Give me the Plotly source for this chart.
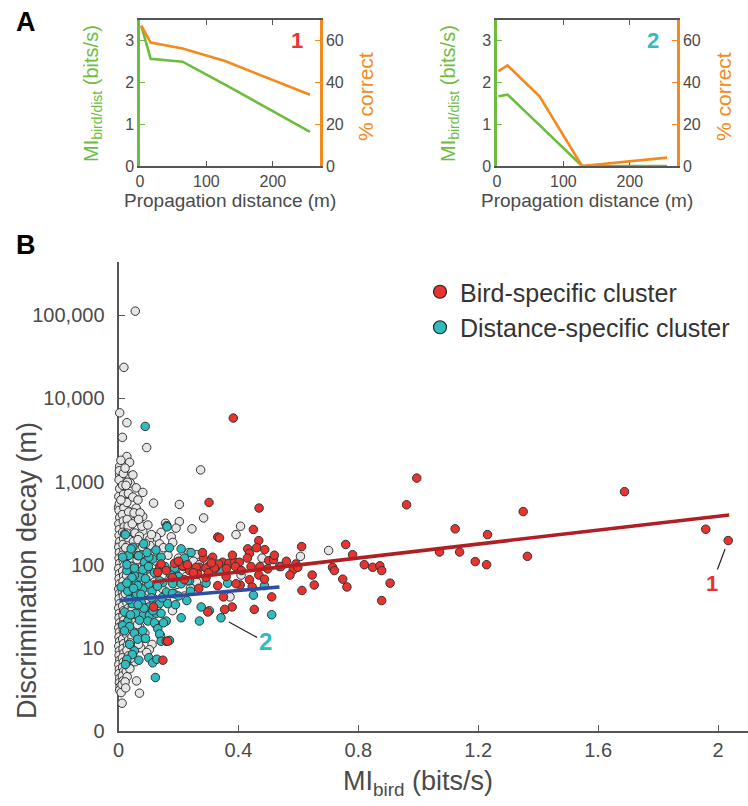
import numpy as np
import plotly.graph_objects as go

# ---------------- Panel A data ----------------
distance_m = [2, 16, 64, 128, 256]
mi_song1 = [3.36, 2.57, 2.50, 1.95, 0.82]
pct_song1 = [67.3, 59.2, 56.3, 50.3, 34.2]
mi_song2 = [1.67, 1.71, 0.98, 0.0, 0.0]
pct_song2 = [45.5, 48.2, 33.4, 0.0, 4.0]

a_xticks = [0, 100, 200]
a_left_ticks = [0, 1, 2, 3]
a_right_ticks = [0, 20, 40, 60]

# ---------------- Panel B data (MI_bird bits/s, decay m) ----------------
grey_pts = [
    (0.056, 112000), (0.018, 23600), (0.004, 6700), (0.028, 5100), (0.013, 3400),
    (0.094, 2560), (0.274, 1380), (0.028, 2000), (0.037, 1700), (0.004, 1520),
    (0.004, 1200), (0.037, 1160), (0.048, 1200), (0.039, 960), (0.059, 840),
    (0.081, 740), (0.117, 550), (0.203, 530), (0.009, 1030), (0.020, 760),
    (0.020, 620), (0.000, 490), (0.031, 445), (0.059, 480), (0.009, 390),
    (0.081, 380), (0.284, 365), (0.203, 330), (0.157, 315), (0.053, 330),
    (0.192, 275), (0.006, 280), (0.039, 255), (0.081, 255), (0.142, 245),
    (0.176, 217), (0.126, 215), (0.048, 205), (0.103, 200), (0.003, 178),
    (0.070, 178), (0.137, 178), (0.181, 185), (0.261, 132), (0.407, 290),
    (0.392, 230), (0.701, 148), (0.607, 126), (0.479, 120), (0.409, 75),
    (0.372, 41),
    # dense left column
    (0.003, 1350), (0.002, 1050), (0.004, 820), (0.001, 660), (0.003, 540),
    (0.002, 450), (0.004, 370), (0.001, 310), (0.003, 265), (0.002, 225),
    (0.004, 190), (0.001, 162), (0.003, 140), (0.002, 120), (0.004, 104),
    (0.001, 90), (0.003, 78), (0.002, 68), (0.004, 59), (0.001, 51),
    (0.003, 45), (0.002, 39), (0.004, 34), (0.001, 30), (0.003, 26),
    (0.002, 23), (0.004, 20), (0.001, 17.5), (0.003, 15.5), (0.002, 13.5),
    (0.004, 12), (0.001, 10.5), (0.003, 9.2), (0.002, 8.1), (0.004, 7.1),
    (0.001, 6.3), (0.003, 5.5), (0.002, 4.9), (0.004, 4.3), (0.003, 3.8),
    (0.005, 3.4), (0.004, 3.1),
    (0.016, 1250), (0.014, 900), (0.017, 700), (0.015, 580), (0.018, 480),
    (0.013, 400), (0.016, 335), (0.019, 285), (0.014, 245), (0.017, 205),
    (0.015, 175), (0.018, 150), (0.013, 130), (0.016, 112), (0.019, 97),
    (0.014, 84), (0.017, 73), (0.015, 63), (0.018, 55), (0.013, 48),
    (0.016, 42), (0.019, 36.5), (0.014, 32), (0.017, 28), (0.015, 24.5),
    (0.018, 21.5), (0.013, 19), (0.016, 16.5), (0.019, 14.5), (0.014, 12.8),
    (0.017, 11.2), (0.015, 9.8), (0.018, 8.6), (0.013, 7.6), (0.016, 6.7),
    (0.014, 5.9), (0.017, 5.2), (0.013, 4.6), (0.015, 4.0), (0.012, 3.6),
    (0.030, 980), (0.033, 720), (0.028, 560), (0.034, 430), (0.029, 350),
    (0.032, 290), (0.027, 240), (0.035, 200), (0.030, 168), (0.033, 143),
    (0.028, 118), (0.036, 100), (0.031, 86), (0.027, 74), (0.034, 64),
    (0.029, 55), (0.032, 47), (0.037, 41), (0.028, 35), (0.033, 30),
    (0.030, 26), (0.035, 22.5), (0.029, 19.5), (0.032, 17), (0.027, 14.5),
    (0.034, 12.5), (0.030, 10.8), (0.028, 9.3), (0.033, 8.0), (0.027, 6.9),
    (0.031, 6.0), (0.026, 5.2), (0.029, 4.5),
    (0.048, 650), (0.052, 420), (0.046, 310), (0.055, 240), (0.050, 190),
    (0.058, 150), (0.045, 120), (0.053, 96), (0.060, 80), (0.047, 66),
    (0.056, 54), (0.050, 44), (0.062, 38), (0.046, 31), (0.054, 25),
    (0.049, 20), (0.058, 16.5), (0.045, 13.5), (0.052, 10), (0.047, 8.2),
    (0.055, 6.8),
    (0.072, 420), (0.078, 290), (0.070, 220), (0.080, 165), (0.074, 130),
    (0.085, 105), (0.070, 82), (0.079, 66), (0.088, 52), (0.073, 44),
    (0.083, 36), (0.076, 28), (0.090, 23), (0.071, 18), (0.080, 13),
    (0.074, 10),
    (0.098, 300), (0.110, 230), (0.105, 170), (0.118, 140), (0.096, 115),
    (0.125, 110), (0.108, 75), (0.120, 62), (0.100, 48), (0.115, 40),
    (0.130, 32), (0.105, 27), (0.125, 19), (0.140, 14), (0.112, 11),
    (0.150, 160), (0.165, 130), (0.158, 88), (0.172, 70), (0.145, 52),
    (0.185, 45), (0.160, 37), (0.200, 120), (0.210, 105), (0.225, 72),
    (0.195, 58), (0.240, 52), (0.250, 110), (0.220, 42), (0.180, 28),
    (0.235, 140), (0.270, 100), (0.260, 62), (0.245, 270),
    (0.070, 2.85), (0.012, 2.16), (0.103, 9.5), (0.060, 4.0),
    (0.040, 140), (0.043, 95), (0.041, 62), (0.044, 28), (0.042, 17),
    (0.039, 11.5), (0.041, 7.5), (0.038, 5.6), (0.022, 3.9), (0.009, 2.9),
    (0.024, 3.3), (0.008, 1800), (0.022, 1450), (0.065, 600), (0.067, 350),
    (0.065, 200), (0.062, 115), (0.066, 72), (0.064, 48), (0.066, 32),
    (0.063, 19), (0.067, 11), (0.090, 180), (0.093, 95), (0.095, 60),
    (0.092, 37), (0.088, 15), (0.094, 8.8), (0.023, 45), (0.024, 160),
    (0.008, 600), (0.025, 900),
]

teal_pts = [
    (0.009, 54), (0.031, 48), (0.037, 59), (0.059, 59), (0.072, 71), (0.057, 43),
    (0.081, 51), (0.101, 58), (0.112, 48), (0.148, 61), (0.181, 59), (0.209, 59),
    (0.237, 64), (0.292, 60), (0.046, 34), (0.076, 35), (0.101, 31), (0.137, 34),
    (0.164, 34), (0.190, 33), (0.228, 37), (0.276, 31), (0.303, 28), (0.020, 27),
    (0.057, 26), (0.084, 25), (0.103, 24.5), (0.126, 26), (0.142, 26), (0.209, 23),
    (0.031, 21), (0.070, 21.5), (0.098, 21), (0.120, 20), (0.159, 21), (0.270, 21),
    (0.014, 18.5), (0.037, 18), (0.081, 16), (0.131, 17), (0.020, 16), (0.053, 15),
    (0.137, 14.7), (0.064, 12.7), (0.142, 12), (0.170, 12.3), (0.037, 11), (0.053, 9.2),
    (0.046, 8.3), (0.028, 7.3), (0.068, 7.1), (0.101, 7.6), (0.114, 6.6), (0.128, 7.3),
    (0.023, 6.3), (0.123, 4.4), (0.089, 4600), (0.161, 295), (0.020, 234), (0.048, 162),
    (0.034, 129), (0.064, 129), (0.087, 107), (0.114, 117), (0.192, 89), (0.028, 85),
    (0.053, 74), (0.064, 56), (0.098, 89), (0.137, 64), (0.231, 64), (0.162, 285),
    (0.023, 230), (0.084, 178), (0.042, 155), (0.209, 155), (0.242, 140), (0.067, 128),
    (0.101, 123), (0.142, 123), (0.014, 123), (0.028, 100), (0.053, 91), (0.081, 87),
    (0.187, 91), (0.217, 95), (0.537, 95), (0.339, 85), (0.364, 60), (0.487, 56),
    (0.450, 43), (0.511, 25), (0.045, 70), (0.090, 68), (0.120, 80), (0.155, 95),
    (0.175, 75), (0.200, 72), (0.110, 40), (0.160, 47), (0.085, 30), (0.060, 45),
    (0.125, 150), (0.170, 160), (0.095, 140), (0.220, 120), (0.260, 85), (0.300, 95),
    (0.035, 38), (0.050, 52), (0.075, 44), (0.100, 95), (0.130, 55), (0.145, 40),
    (0.180, 45), (0.065, 33), (0.090, 13), (0.040, 25), (0.115, 28), (0.150, 20),
    (0.200, 42), (0.240, 48), (0.028, 60),
    (0.342, 23),
]

red_pts = [
    (0.383, 5800), (0.302, 560), (0.469, 480), (0.331, 215), (0.283, 120), (0.314, 123),
    (0.137, 95), (0.237, 85), (0.270, 93), (0.292, 91), (0.323, 91),
    (0.450, 265), (0.337, 210), (0.468, 195), (0.611, 165), (0.431, 155), (0.461, 160),
    (0.488, 152), (0.437, 137), (0.501, 112), (0.517, 115), (0.348, 107), (0.368, 104),
    (0.387, 107), (0.403, 107), (0.334, 102), (0.320, 91), (0.390, 95), (0.442, 95),
    (0.472, 95), (0.498, 89), (0.592, 102), (0.583, 87), (0.572, 75), (0.646, 75),
    (0.714, 93), (0.720, 85), (0.292, 70), (0.359, 72), (0.468, 75), (0.487, 67),
    (0.437, 66), (0.653, 57), (0.612, 49), (0.331, 56), (0.406, 57), (0.446, 54),
    (0.350, 41), (0.511, 41), (0.379, 31), (0.354, 29), (0.453, 29), (0.298, 27),
    (0.995, 1100), (0.961, 525), (1.123, 270), (1.231, 230), (1.350, 435), (1.364, 126),
    (0.758, 175), (0.781, 132), (0.542, 95), (0.598, 93), (0.748, 67), (0.762, 54),
    (0.820, 100), (0.848, 93), (0.872, 97), (0.878, 85), (0.906, 60), (0.878, 37),
    (1.071, 142), (1.138, 142), (1.190, 109), (1.228, 100),
    (1.688, 755), (1.959, 267),
    (0.131, 81), (0.117, 31), (0.268, 52), (0.148, 7.1), (0.159, 12), (0.164, 12),
    (0.142, 102), (0.187, 104), (0.214, 97), (0.259, 93), (0.159, 85), (0.264, 77),
    (0.392, 59), (0.200, 110), (0.230, 100), (0.250, 80), (0.180, 70), (0.220, 66),
    (0.300, 80), (0.310, 105), (0.360, 90), (0.410, 85), (0.430, 120), (0.520, 130),
    (0.560, 110), (0.280, 140), (0.380, 130),
    (2.034, 195),
]

# fitted trend lines (end points of each fit)
red_fit_x = [0.113, 2.037]
red_fit_y = [62, 397]
blue_fit_x = [0.005, 0.537]
blue_fit_y = [37, 54]

b_xticks = [0, 0.4, 0.8, 1.2, 1.6, 2.0]
b_xticktext = ["0", "0.4", "0.8", "1.2", "1.6", "2"]
b_yticks = [1, 10, 100, 1000, 10000, 100000]
b_yticktext = ["0", "10", "100", "1,000", "10,000", "100,000"]

example1 = red_pts[-1]   # song "1"
example2 = teal_pts[-1]  # song "2"

# ---------------- styling ----------------
W, H = 748, 806
FONT = "Liberation Sans, Arial, Helvetica, sans-serif"
GREEN = "#6cbd3d"
ORANGE = "#f28a1e"
RED = "#e8332f"
TEAL = "#2fbcbf"
GREY_FILL = "#e6e6e6"
AX = "#555555"
TXT = "#4a4a4a"


def px_x(p):
    return p / W


def px_y(p):
    return 1 - p / H


fig = go.Figure()

# Panel A traces
for xa, ya, ya2, mi, pc in [("x", "y", "y2", mi_song1, pct_song1),
                            ("x2", "y3", "y4", mi_song2, pct_song2)]:
    fig.add_trace(go.Scatter(x=distance_m, y=mi, mode="lines",
                             line=dict(color=GREEN, width=2.6),
                             xaxis=xa, yaxis=ya, showlegend=False, hoverinfo="skip"))
    fig.add_trace(go.Scatter(x=distance_m, y=pc, mode="lines",
                             line=dict(color=ORANGE, width=2.6),
                             xaxis=xa, yaxis=ya2, showlegend=False, hoverinfo="skip"))

# Panel B scatter
mk_line = dict(color="#333333", width=1)
for pts, col in [(grey_pts, GREY_FILL), (teal_pts, TEAL), (red_pts, RED)]:
    xs = [p[0] for p in pts]
    ys = [p[1] for p in pts]
    fig.add_trace(go.Scatter(x=xs, y=ys, mode="markers",
                             marker=dict(size=8.5, color=col, line=mk_line),
                             xaxis="x3", yaxis="y5", showlegend=False,
                             cliponaxis=False, hoverinfo="skip"))

fig.add_trace(go.Scatter(x=red_fit_x, y=red_fit_y, mode="lines",
                         line=dict(color="#b01f24", width=3.5),
                         xaxis="x3", yaxis="y5", showlegend=False, hoverinfo="skip"))
fig.add_trace(go.Scatter(x=blue_fit_x, y=blue_fit_y, mode="lines",
                         line=dict(color="#2f4ea3", width=3.5),
                         xaxis="x3", yaxis="y5", showlegend=False, hoverinfo="skip"))

# legend entries
fig.add_trace(go.Scatter(x=[None], y=[None], mode="markers", name="Bird-specific cluster",
                         marker=dict(size=13, color=RED, line=dict(color="#222", width=1.2)),
                         xaxis="x3", yaxis="y5"))
fig.add_trace(go.Scatter(x=[None], y=[None], mode="markers", name="Distance-specific cluster",
                         marker=dict(size=13, color=TEAL, line=dict(color="#222", width=1.2)),
                         xaxis="x3", yaxis="y5"))

a_xdom1 = [px_x(140), px_x(320)]
a_xdom2 = [px_x(497), px_x(677)]
a_ydom = [px_y(166), px_y(20)]

tickf_a = dict(size=16, color=TXT, family=FONT)


def a_xaxis(dom, anchor):
    return dict(domain=dom, anchor=anchor, range=[0, 271], tickvals=a_xticks,
                ticks="inside", ticklen=5, tickcolor=AX, mirror="ticks",
                showline=True, linecolor=AX, linewidth=1.5, showgrid=False,
                zeroline=False, tickfont=tickf_a, layer="below traces")


def a_yleft(anchor):
    return dict(domain=a_ydom, anchor=anchor, range=[0, 3.5], tickvals=a_left_ticks,
                ticks="inside", ticklen=5, tickcolor=GREEN, showline=True,
                linecolor=GREEN, linewidth=2.5, showgrid=False, zeroline=False,
                tickfont=tickf_a, layer="below traces")


def a_yright(anchor, over):
    return dict(overlaying=over, side="right", anchor=anchor, range=[0, 70],
                tickvals=a_right_ticks, ticks="inside", ticklen=5, tickcolor=ORANGE,
                showline=True, linecolor=ORANGE, linewidth=2.5, showgrid=False,
                zeroline=False, tickfont=tickf_a)


tickf_b = dict(size=20, color=TXT, family=FONT)

fig.update_layout(
    width=W, height=H, autosize=False,
    margin=dict(l=0, r=0, t=0, b=0, pad=0, autoexpand=False),
    paper_bgcolor="white", plot_bgcolor="white",
    font=dict(family=FONT, color=TXT),
    xaxis=a_xaxis(a_xdom1, "y"),
    yaxis=a_yleft("x"),
    yaxis2=a_yright("x", "y"),
    xaxis2=a_xaxis(a_xdom2, "y3"),
    yaxis3=a_yleft("x2"),
    yaxis4=a_yright("x2", "y3"),
    xaxis3=dict(domain=[px_x(118.5), 1.0], anchor="y5", range=[0, 2.1],
                tickvals=b_xticks, ticktext=b_xticktext, ticks="inside", ticklen=6,
                tickcolor=AX, showline=True, linecolor=AX, linewidth=2,
                showgrid=False, zeroline=False, tickfont=tickf_b, layer="below traces"),
    yaxis5=dict(domain=[px_y(731), px_y(262)], anchor="x3", type="log", range=[0, 5.64],
                tickvals=b_yticks, ticktext=b_yticktext, ticks="inside", ticklen=6,
                tickcolor=AX, showline=True, linecolor=AX, linewidth=2,
                showgrid=False, zeroline=False, tickfont=tickf_b, layer="below traces",
                ticklabelstandoff=8),
    legend=dict(x=px_x(420), y=px_y(269), xanchor="left", yanchor="top",
                font=dict(size=25, color="#333", family=FONT),
                bgcolor="rgba(0,0,0,0)", tracegroupgap=0, itemwidth=30),
)


def note(text, xpx, ypx, size, color, angle=0):
    return dict(text=text, x=px_x(xpx), y=px_y(ypx), xref="paper", yref="paper",
                xanchor="center", yanchor="middle", showarrow=False, textangle=angle,
                font=dict(size=size, color=color, family=FONT))


ann = []
ann.append(note("<b>A</b>", 26, 22, 27, "black"))
ann.append(note("<b>B</b>", 26, 245, 27, "black"))
for cx_left, cx_right, cx_mid, num, numcol, numx in [
        (93, 366, 230, "1", RED, 297), (450, 724, 587, "2", TEAL, 653)]:
    ann.append(note("MI<sub>bird/dist</sub> (bits/s)", cx_left, 94, 20, GREEN, -90))
    ann.append(note("% correct", cx_right, 97, 21, ORANGE, -90))
    ann.append(note("Propagation distance (m)", cx_mid, 201, 19, TXT))
    ann.append(note("<b>%s</b>" % num, numx, 40, 22, numcol))
ann.append(note("Discrimination decay (m)", 27, 571, 27, TXT, -90))
ann.append(note("MI<sub>bird</sub> (bits/s)", 418, 783, 27, TXT))
# example pointers
ann.append(dict(text="<b>1</b>", x=example1[0], y=np.log10(example1[1]),
                xref="x3", yref="y5", showarrow=True, arrowhead=0, arrowwidth=1.2,
                arrowcolor="#222", ax=-16, ay=43, standoff=9,
                font=dict(size=22, color=RED, family=FONT)))
ann.append(dict(text="<b>2</b>", x=example2[0], y=np.log10(example2[1]),
                xref="x3", yref="y5", showarrow=True, arrowhead=0, arrowwidth=1.2,
                arrowcolor="#222", ax=44, ay=24, standoff=9,
                font=dict(size=24, color=TEAL, family=FONT)))
fig.update_layout(annotations=ann)

fig.write_html("out.html", config={"displayModeBar": False},
               post_script="document.body.style.margin='0';document.body.style.padding='0';")
